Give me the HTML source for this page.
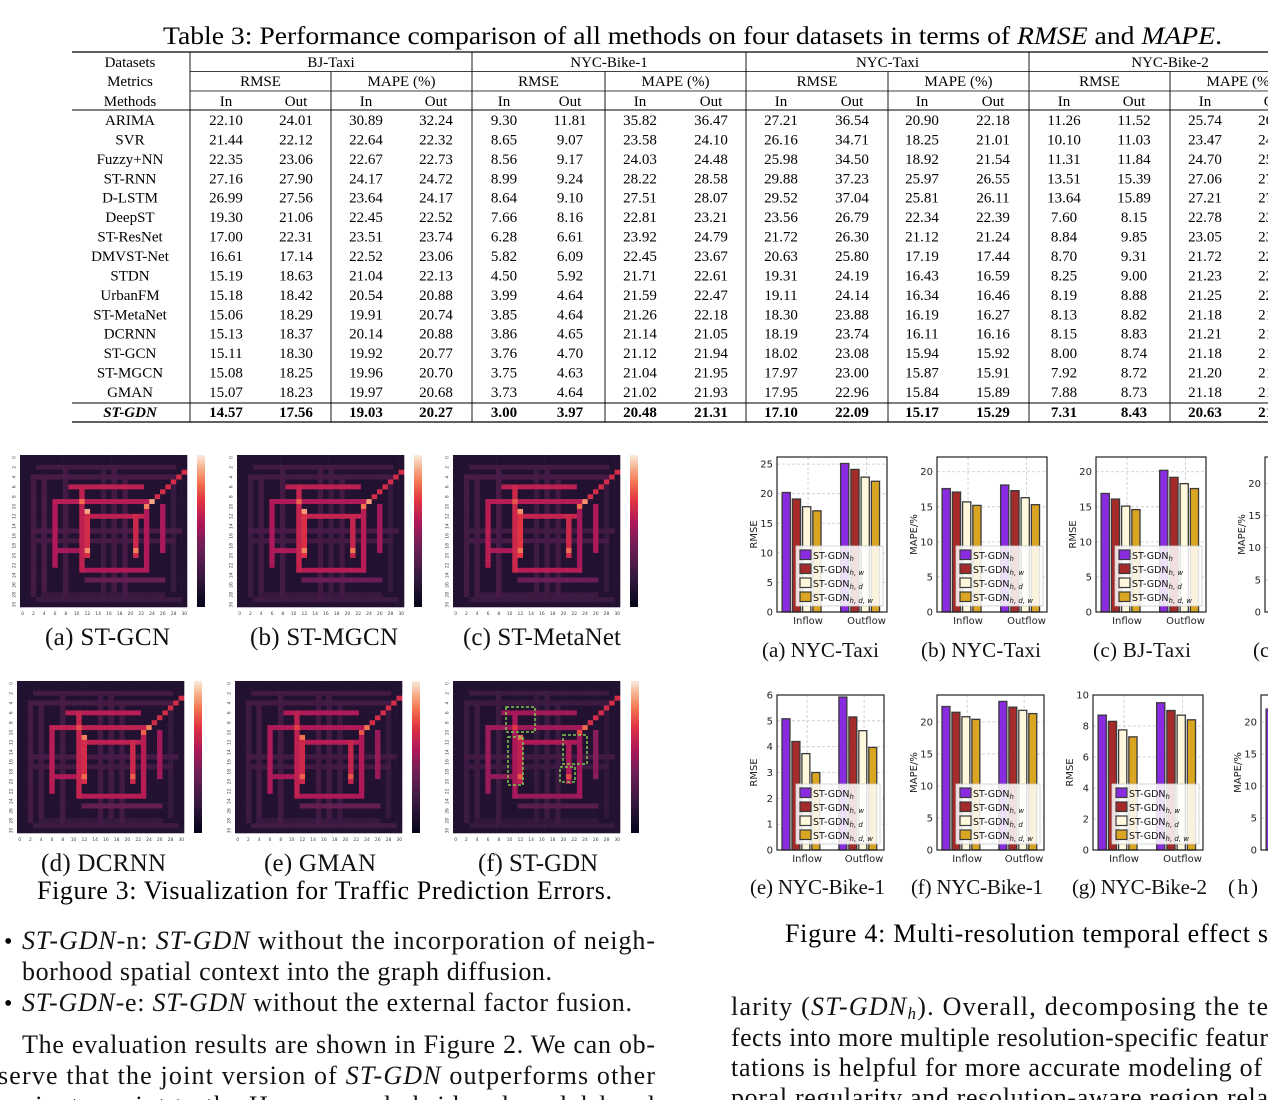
<!DOCTYPE html>
<html><head><meta charset="utf-8">
<style>
html,body{margin:0;padding:0;background:#fff;width:1268px;height:1100px;overflow:hidden}
svg{display:block}
.serif{font-family:"Liberation Serif",serif}
.sans{font-family:"DejaVu Sans","Liberation Sans",sans-serif}
</style></head>
<body>
<svg id="root" width="1268" height="1100" viewBox="0 0 1268 1100" xmlns="http://www.w3.org/2000/svg">
<defs>
<linearGradient id="rocket" x1="0" y1="1" x2="0" y2="0">
<stop offset="0" stop-color="#03051a"/><stop offset="0.2" stop-color="#36193e"/>
<stop offset="0.4" stop-color="#701f57"/><stop offset="0.55" stop-color="#ad1759"/>
<stop offset="0.7" stop-color="#e13342"/><stop offset="0.82" stop-color="#f37651"/>
<stop offset="0.92" stop-color="#f6b48f"/><stop offset="1" stop-color="#faebdd"/>
</linearGradient>
</defs>
</svg>
<script>
// ===== TABLE DATA =====
const tableMethods = ['ARIMA','SVR','Fuzzy+NN','ST-RNN','D-LSTM','DeepST','ST-ResNet','DMVST-Net','STDN','UrbanFM','ST-MetaNet','DCRNN','ST-GCN','ST-MGCN','GMAN','ST-GDN'];
const tableDatasets = ['BJ-Taxi','NYC-Bike-1','NYC-Taxi','NYC-Bike-2'];
const tableValues = [
['22.10','24.01','30.89','32.24','9.30','11.81','35.82','36.47','27.21','36.54','20.90','22.18','11.26','11.52','25.74','26.31'],
['21.44','22.12','22.64','22.32','8.65','9.07','23.58','24.10','26.16','34.71','18.25','21.01','10.10','11.03','23.47','24.12'],
['22.35','23.06','22.67','22.73','8.56','9.17','24.03','24.48','25.98','34.50','18.92','21.54','11.31','11.84','24.70','25.01'],
['27.16','27.90','24.17','24.72','8.99','9.24','28.22','28.58','29.88','37.23','25.97','26.55','13.51','15.39','27.06','27.52'],
['26.99','27.56','23.64','24.17','8.64','9.10','27.51','28.07','29.52','37.04','25.81','26.11','13.64','15.89','27.21','27.80'],
['19.30','21.06','22.45','22.52','7.66','8.16','22.81','23.21','23.56','26.79','22.34','22.39','7.60','8.15','22.78','23.10'],
['17.00','22.31','23.51','23.74','6.28','6.61','23.92','24.79','21.72','26.30','21.12','21.24','8.84','9.85','23.05','23.40'],
['16.61','17.14','22.52','23.06','5.82','6.09','22.45','23.67','20.63','25.80','17.19','17.44','8.70','9.31','21.72','22.05'],
['15.19','18.63','21.04','22.13','4.50','5.92','21.71','22.61','19.31','24.19','16.43','16.59','8.25','9.00','21.23','22.01'],
['15.18','18.42','20.54','20.88','3.99','4.64','21.59','22.47','19.11','24.14','16.34','16.46','8.19','8.88','21.25','22.00'],
['15.06','18.29','19.91','20.74','3.85','4.64','21.26','22.18','18.30','23.88','16.19','16.27','8.13','8.82','21.18','21.90'],
['15.13','18.37','20.14','20.88','3.86','4.65','21.14','21.05','18.19','23.74','16.11','16.16','8.15','8.83','21.21','21.88'],
['15.11','18.30','19.92','20.77','3.76','4.70','21.12','21.94','18.02','23.08','15.94','15.92','8.00','8.74','21.18','21.85'],
['15.08','18.25','19.96','20.70','3.75','4.63','21.04','21.95','17.97','23.00','15.87','15.91','7.92','8.72','21.20','21.83'],
['15.07','18.23','19.97','20.68','3.73','4.64','21.02','21.93','17.95','22.96','15.84','15.89','7.88','8.73','21.18','21.80'],
['14.57','17.56','19.03','20.27','3.00','3.97','20.48','21.31','17.10','22.09','15.17','15.29','7.31','8.43','20.63','21.22']
];

// ===== BAR CHART DATA =====
const barCategories = ['Inflow','Outflow'];
const barSeriesNames = ['h','h, w','h, d','h, d, w'];
const barA = [[20.2,25.1],[19.1,24.1],[17.8,22.8],[17.1,22.1]];
const barB = [[17.6,18.1],[17.1,17.3],[15.7,16.3],[15.2,15.3]];
const barC = [[16.9,20.2],[16.1,19.2],[15.1,18.3],[14.6,17.6]];
const barD = [[22.5,23.0],[21.6,22.4],[20.9,21.9],[20.4,21.4]];
const barE = [[5.08,5.92],[4.2,5.15],[3.73,4.62],[3.0,3.97]];
const barF = [[22.4,23.2],[21.5,22.3],[20.8,21.8],[20.4,21.3]];
const barG = [[8.7,9.5],[8.3,9.0],[7.75,8.7],[7.3,8.4]];
const barH = [[22.0,22.8],[21.2,22.0],[20.6,21.5],[20.1,21.0]];
const barYTicksRMSE25 = [0,5,10,15,20,25];
const barYTicksMAPE = [0,5,10,15,20];
const barYTicksE = [0,1,2,3,4,5,6];
const barYTicksG = [0,2,4,6,8,10];

// ===== HEATMAP DATA (segments of error cells: orientation, fixed index, from, to) =====
const hmSegments = [
['h',6,9,22],['h',9,6,24],['h',12,11,22],['h',19,6,12],['h',23,11,23],['h',25,12,26],
['v',6,9,22],['v',11,6,23],['v',12,12,20],['v',21,12,20],['v',23,9,23],['v',26,10,19],
['h',2,3,28],['h',4,2,29],['h',15,2,29],['h',17,3,28],['h',28,4,26],['h',29,3,29],
['v',2,4,28],['v',4,5,27],['v',8,3,28],['v',15,2,29],['v',17,3,27],['v',19,4,28],['v',28,5,27]
];
const hmIntensityA = [0.6,0.58,0.6,0.54,0.56,0.36,0.56,0.6,0.66,0.64,0.56,0.54,0.24,0.26,0.27,0.25,0.21,0.22,0.24,0.26,0.24,0.22,0.24,0.26,0.2];
const hmIntensityB = [0.6,0.56,0.62,0.56,0.58,0.38,0.54,0.62,0.68,0.62,0.58,0.52,0.24,0.24,0.26,0.24,0.21,0.22,0.22,0.24,0.24,0.24,0.22,0.24,0.2];
const hmIntensityC = [0.6,0.58,0.62,0.56,0.58,0.38,0.58,0.64,0.7,0.64,0.52,0.56,0.24,0.26,0.24,0.26,0.22,0.22,0.24,0.24,0.26,0.22,0.24,0.24,0.2];
const hmIntensityD = [0.58,0.6,0.6,0.56,0.58,0.36,0.58,0.62,0.66,0.64,0.58,0.52,0.24,0.26,0.26,0.24,0.2,0.22,0.24,0.24,0.24,0.24,0.24,0.24,0.2];
const hmIntensityE = [0.56,0.56,0.58,0.54,0.56,0.36,0.56,0.6,0.64,0.62,0.56,0.5,0.24,0.24,0.24,0.24,0.2,0.24,0.22,0.24,0.24,0.24,0.24,0.22,0.2];
const hmIntensityF = [0.52,0.52,0.56,0.48,0.5,0.32,0.5,0.54,0.6,0.56,0.52,0.46,0.22,0.22,0.24,0.22,0.18,0.2,0.22,0.22,0.22,0.2,0.22,0.22,0.18];
const hmDiagonal = [[24,9],[25,8],[26,7],[27,6],[28,5],[29,4],[30,3]];
const hmPeaks = [[12,11,0.9],[12,19,0.86],[21,19,0.84],[23,10,0.84],[24,9,0.9],[11,9,0.8]];
const hmTickLabels = ['0','2','4','6','8','10','12','14','16','18','20','22','24','26','28','30'];

const NS='http://www.w3.org/2000/svg';
const root=document.getElementById('root');
function mk(tag,attrs,parent){const e=document.createElementNS(NS,tag);for(const k in attrs)e.setAttribute(k,attrs[k]);(parent||root).appendChild(e);return e;}
function txt(str,attrs,parent){const e=mk('text',attrs,parent);e.textContent=str;return e;}

// ===== TITLE =====
const title=mk('text',{x:163,y:44,'font-size':25,class:'serif',textLength:1059,lengthAdjust:'spacingAndGlyphs'});


title.innerHTML='Table 3: Performance comparison of all methods on four datasets in terms of <tspan font-style="italic">RMSE</tspan> and <tspan font-style="italic">MAPE</tspan>.';

// ===== TABLE =====
const tbl=mk('g',{class:'serif','font-size':15,fill:'#000'});


const groupB=[190,472,746,1029,1311];
const metricB=[331,605,888,1170];
const colCenters=[226,296,366,436,504,570,640,711,781,852,922,993,1064,1134,1205,1275];
function line(x1,y1,x2,y2,w){return mk('line',{x1,y1,x2,y2,stroke:'#000','stroke-width':w||1},tbl);}
line(72,52,1268,52,1.3);
line(190,71.5,1268,71.5,0.8);
line(190,91,1268,91,0.8);
line(72,110,1268,110,0.9);
line(72,403,1268,403,0.9);
line(72,422,1268,422,1.3);
groupB.forEach(x=>{if(x<1268)line(x,52,x,422,0.9);});
metricB.forEach(x=>line(x,71.5,x,422,0.9));
const hl=[['Datasets',67],['Metrics',86],['Methods',106]];
hl.forEach(h=>{const t=txt(h[0],{x:130,y:h[1],'text-anchor':'middle'},tbl);

});
tableDatasets.forEach((d,i)=>{const t=txt(d,{x:(groupB[i]+groupB[i+1])/2,y:67,'text-anchor':'middle'},tbl);


const mL=[groupB[i],metricB[i],groupB[i+1]];
const t1=txt('RMSE',{x:(mL[0]+mL[1])/2,y:86,'text-anchor':'middle'},tbl);


const t2=txt('MAPE (%)',{x:(mL[1]+mL[2])/2,y:86,'text-anchor':'middle'},tbl);

});
colCenters.forEach((c,i)=>{const t=txt(i%2?'Out':'In',{x:c,y:106,'text-anchor':'middle'},tbl);

});
tableMethods.forEach((m,r)=>{
 const y=(r<15?120+r*19.43:412)+5;
 const last=r==15;
 const t=txt(m,{x:130,y:y,'text-anchor':'middle','font-style':last?'italic':'normal','font-weight':last?'bold':'normal'},tbl);
 
 
 tableValues[r].forEach((v,c)=>{const tv=txt(v,{x:colCenters[c],y:y,'text-anchor':'middle','font-weight':last?'bold':'normal'},tbl);
 
 });
});

// ===== HEATMAPS =====
function rocket(v){
 const st=[[0,[3,5,26]],[0.2,[54,25,62]],[0.4,[112,31,87]],[0.55,[173,23,89]],[0.7,[225,51,66]],[0.82,[243,118,81]],[0.92,[246,180,143]],[1,[250,235,221]]];
 v=Math.max(0,Math.min(1,v));
 for(let i=1;i<st.length;i++){if(v<=st[i][0]){const a=st[i-1],b=st[i],t=(v-a[0])/(b[0]-a[0]);
 return 'rgb('+a[1].map((c,k)=>Math.round(c+(b[1][k]-c)*t)).join(',')+')';}}
 return 'rgb(250,235,221)';
}
const hmCfg=[
 {x:20,y:455,w:167,h:152,cb:197,ints:hmIntensityA,name:'heatmap-st-gcn'},
 {x:237,y:455,w:167,h:152,cb:414,ints:hmIntensityB,name:'heatmap-st-mgcn'},
 {x:453,y:455,w:167,h:152,cb:630,ints:hmIntensityC,name:'heatmap-st-metanet'},
 {x:17,y:681,w:167,h:152,cb:194,ints:hmIntensityD,name:'heatmap-dcrnn'},
 {x:235,y:681,w:167,h:152,cb:412,ints:hmIntensityE,name:'heatmap-gman'},
 {x:453,y:681,w:167,h:152,cb:631,ints:hmIntensityF,name:'heatmap-st-gdn'}
];
const N=31;
hmCfg.forEach((cfg,hi)=>{
 const g=mk('g',{});
 
 
 const M=[];for(let r=0;r<N;r++){M.push(new Array(N).fill(0.12));}
 hmSegments.forEach((s,si)=>{for(let k=s[2];k<=s[3];k++){if(s[0]=='h')M[s[1]][k]=Math.max(M[s[1]][k],cfg.ints[si]);else M[k][s[1]]=Math.max(M[k][s[1]],cfg.ints[si]);}});
 hmDiagonal.forEach(p=>{M[p[1]][p[0]]=Math.max(M[p[1]][p[0]],0.66);});
 hmPeaks.forEach(p=>{M[p[1]][p[0]]=Math.max(M[p[1]][p[0]],p[2]-hi*0.02);});
 const cw=cfg.w/N,ch=cfg.h/N;
 for(let r=0;r<N;r++)for(let c=0;c<N;c++){
  const cell=mk('rect',{x:cfg.x+c*cw,y:cfg.y+r*ch,width:cw+0.3,height:ch+0.3,fill:rocket(M[r][c])},g);
  
  
 }
 const cb=mk('rect',{x:cfg.cb,y:cfg.y,width:8,height:cfg.h,fill:'url(#rocket)'},g);
 
 
 hmTickLabels.forEach((lab,i)=>{
  const tx=txt(lab,{x:cfg.x+(2*i+0.5)*cw,y:cfg.y+cfg.h+8,'font-size':4.5,'text-anchor':'middle',fill:'#444',class:'sans'},g);
  
  
  const ty=txt(lab,{x:cfg.x-6,y:cfg.y+(2*i+0.5)*ch+1.5,'font-size':4.5,'text-anchor':'middle',fill:'#444',class:'sans',transform:'rotate(-90 '+(cfg.x-6)+' '+(cfg.y+(2*i+0.5)*ch)+')'},g);
  
  
 });
});
// highlight boxes on ST-GDN
const boxes=[[506,707,29,25],[563,735,24,29],[508,737,15,48],[560,767,15,15]];
boxes.forEach(b=>{const r=mk('rect',{x:b[0],y:b[1],width:b[2],height:b[3],fill:'none',stroke:'#7ec850','stroke-width':1.5,'stroke-dasharray':'3,2'});

});

// ===== BAR CHARTS =====
const barColors=['#8a2be2','#a52a2a','#fff8dc','#daa520'];
const barCfg=[
 {l:777,r:887,t:457,b:612,ymax:26.2,ticks:barYTicksRMSE25,vals:barA,lab:'RMSE',name:'bar-chart-nyc-taxi-rmse'},
 {l:937,r:1047,t:457,b:612,ymax:22.1,ticks:barYTicksMAPE,vals:barB,lab:'MAPE/%',name:'bar-chart-nyc-taxi-mape'},
 {l:1096,r:1206,t:457,b:612,ymax:22.1,ticks:barYTicksMAPE,vals:barC,lab:'RMSE',name:'bar-chart-bj-taxi-rmse'},
 {l:1265,r:1375,t:457,b:612,ymax:24.1,ticks:barYTicksMAPE,vals:barD,lab:'MAPE/%',name:'bar-chart-bj-taxi-mape'},
 {l:777,r:884,t:695,b:850,ymax:6,ticks:barYTicksE,vals:barE,lab:'RMSE',name:'bar-chart-nyc-bike1-rmse'},
 {l:937,r:1044,t:695,b:850,ymax:24.2,ticks:barYTicksMAPE,vals:barF,lab:'MAPE/%',name:'bar-chart-nyc-bike1-mape'},
 {l:1093,r:1203,t:695,b:850,ymax:10,ticks:barYTicksG,vals:barG,lab:'RMSE',name:'bar-chart-nyc-bike2-rmse'},
 {l:1261,r:1371,t:695,b:850,ymax:24.2,ticks:barYTicksMAPE,vals:barH,lab:'MAPE/%',name:'bar-chart-nyc-bike2-mape'}
];
barCfg.forEach(cfg=>{
 const g=mk('g',{class:'sans'});
 
 
 const x0=-0.42,x1=1.46;
 const xs=v=>cfg.l+(v-x0)/(x1-x0)*(cfg.r-cfg.l);
 const ys=v=>cfg.b-v/cfg.ymax*(cfg.b-cfg.t);
 cfg.ticks.forEach(tk=>{
  const gl=mk('line',{x1:cfg.l,x2:cfg.r,y1:ys(tk),y2:ys(tk),stroke:'#c8c8c8','stroke-width':0.8,'stroke-dasharray':'3,2'},g);
  
  
  const tl=txt(String(tk),{x:cfg.l-4,y:ys(tk)+3.5,'font-size':10,'text-anchor':'end',fill:'#222'},g);
  
  
 });
 barCategories.forEach((c,ci)=>{
  const gx=xs(ci+0.11);
  const vl=mk('line',{x1:gx,x2:gx,y1:cfg.t,y2:cfg.b,stroke:'#c8c8c8','stroke-width':0.8,'stroke-dasharray':'3,2'},g);
  
  
  const xl=txt(c,{x:gx,y:cfg.b+12,'font-size':10,'text-anchor':'middle',fill:'#222'},g);
  
  
 });
 cfg.vals.forEach((ser,si)=>{ser.forEach((v,ci)=>{
  const cx=xs(ci+(si-1.5)*0.175);
  const w=(cfg.r-cfg.l)/(x1-x0)*0.14;
  const bar=mk('rect',{x:cx-w/2,y:ys(v),width:w,height:cfg.b-ys(v),fill:barColors[si],stroke:'#3a3a3a','stroke-width':1.3},g);
  
  
 });});
 const ax=mk('rect',{x:cfg.l,y:cfg.t,width:cfg.r-cfg.l,height:cfg.b-cfg.t,fill:'none',stroke:'#222','stroke-width':1.2},g);
 
 
 const yl=txt(cfg.lab,{x:0,y:0,'font-size':10,'text-anchor':'middle',fill:'#222',transform:'translate('+(cfg.l-20)+','+((cfg.t+cfg.b)/2)+') rotate(-90)'},g);
 
 
 const lx=cfg.l+19,ly=cfg.b-66,lw=cfg.r-cfg.l-23;
 const lg=mk('g',{},g);
 
 
 mk('rect',{x:lx,y:ly,width:lw,height:60,fill:'#fff','fill-opacity':0.85,stroke:'#ccc','stroke-width':0.8},lg);
 barSeriesNames.forEach((s,si)=>{
  const ey=ly+4+si*14;
  const sw=mk('rect',{x:lx+4,y:ey,width:11,height:9.5,fill:barColors[si],stroke:'#3a3a3a','stroke-width':1.2},lg);
  
  
  const et=mk('text',{x:lx+17,y:ey+9,'font-size':9.5,fill:'#111'},lg);
  
  
  et.innerHTML='ST-GDN<tspan font-size="7" font-style="italic" dy="2">'+s+'</tspan>';
 });
});

// ===== CAPTIONS =====
const caps=[
 ['(a) ST-GCN',45,645,125,25],['(b) ST-MGCN',250,645,148,25],['(c) ST-MetaNet',463,645,158,25],
 ['(d) DCRNN',41,871,125,25],['(e) GMAN',264,871,112,25],['(f) ST-GDN',478,871,120,25],
 ['(a) NYC-Taxi',762,657,117,21],['(b) NYC-Taxi',921,657,120,21],['(c) BJ-Taxi',1093,657,98,21],['(c',1253,657,0,21],
 ['(e) NYC-Bike-1',750,894,135,21],['(f) NYC-Bike-1',911,894,132,21],['(g) NYC-Bike-2',1072,894,135,21],['(h)',1228,894,30,21]
];
caps.forEach(c=>{const a={x:c[1],y:c[2],'font-size':c[4],class:'serif',fill:'#111'};
 if(c[3])a.textLength=c[3];
 const t=txt(c[0],a);
 
 });
const f3=txt('Figure 3: Visualization for Traffic Prediction Errors.',{x:37,y:899,'font-size':26,class:'serif',textLength:575});


const f4=txt('Figure 4: Multi-resolution temporal effect s',{x:785,y:942,'font-size':26,class:'serif',textLength:483});



// ===== BODY TEXT =====
const body=[
 [22,949,633,'<tspan font-style="italic">ST-GDN</tspan>-n: <tspan font-style="italic">ST-GDN</tspan> without the incorporation of neigh-'],
 [22,980,530,'borhood spatial context into the graph diffusion.'],
 [22,1011,610,'<tspan font-style="italic">ST-GDN</tspan>-e: <tspan font-style="italic">ST-GDN</tspan> without the external factor fusion.'],
 [22,1053,633,'The evaluation results are shown in Figure 2. We can ob-'],
 [-2,1084,657,'serve that the joint version of <tspan font-style="italic">ST-GDN</tspan> outperforms other'],
 [-2,1114,657,'variants, point to the Hop-aware hybrid and model-level'],
 [731,1015,537,'larity (<tspan font-style="italic">ST-GDN<tspan font-size="17" dy="4">h</tspan></tspan><tspan dy="-4">). Overall, decomposing the te</tspan>'],
 [731,1046,537,'fects into more multiple resolution-specific featur'],
 [731,1076,531,'tations is helpful for more accurate modeling of'],
 [731,1106,537,'poral regularity and resolution-aware region rela']
];
body.forEach(b=>{const t=mk('text',{x:b[0],y:b[1],'font-size':26,class:'serif',textLength:b[2],lengthAdjust:'spacing',fill:'#111'});
 
 
 t.innerHTML=b[3];});
[949,1011].forEach(y=>{const t=txt('•',{x:4,y:y,'font-size':24,class:'serif'});
 
 });
</script>
</body></html>
